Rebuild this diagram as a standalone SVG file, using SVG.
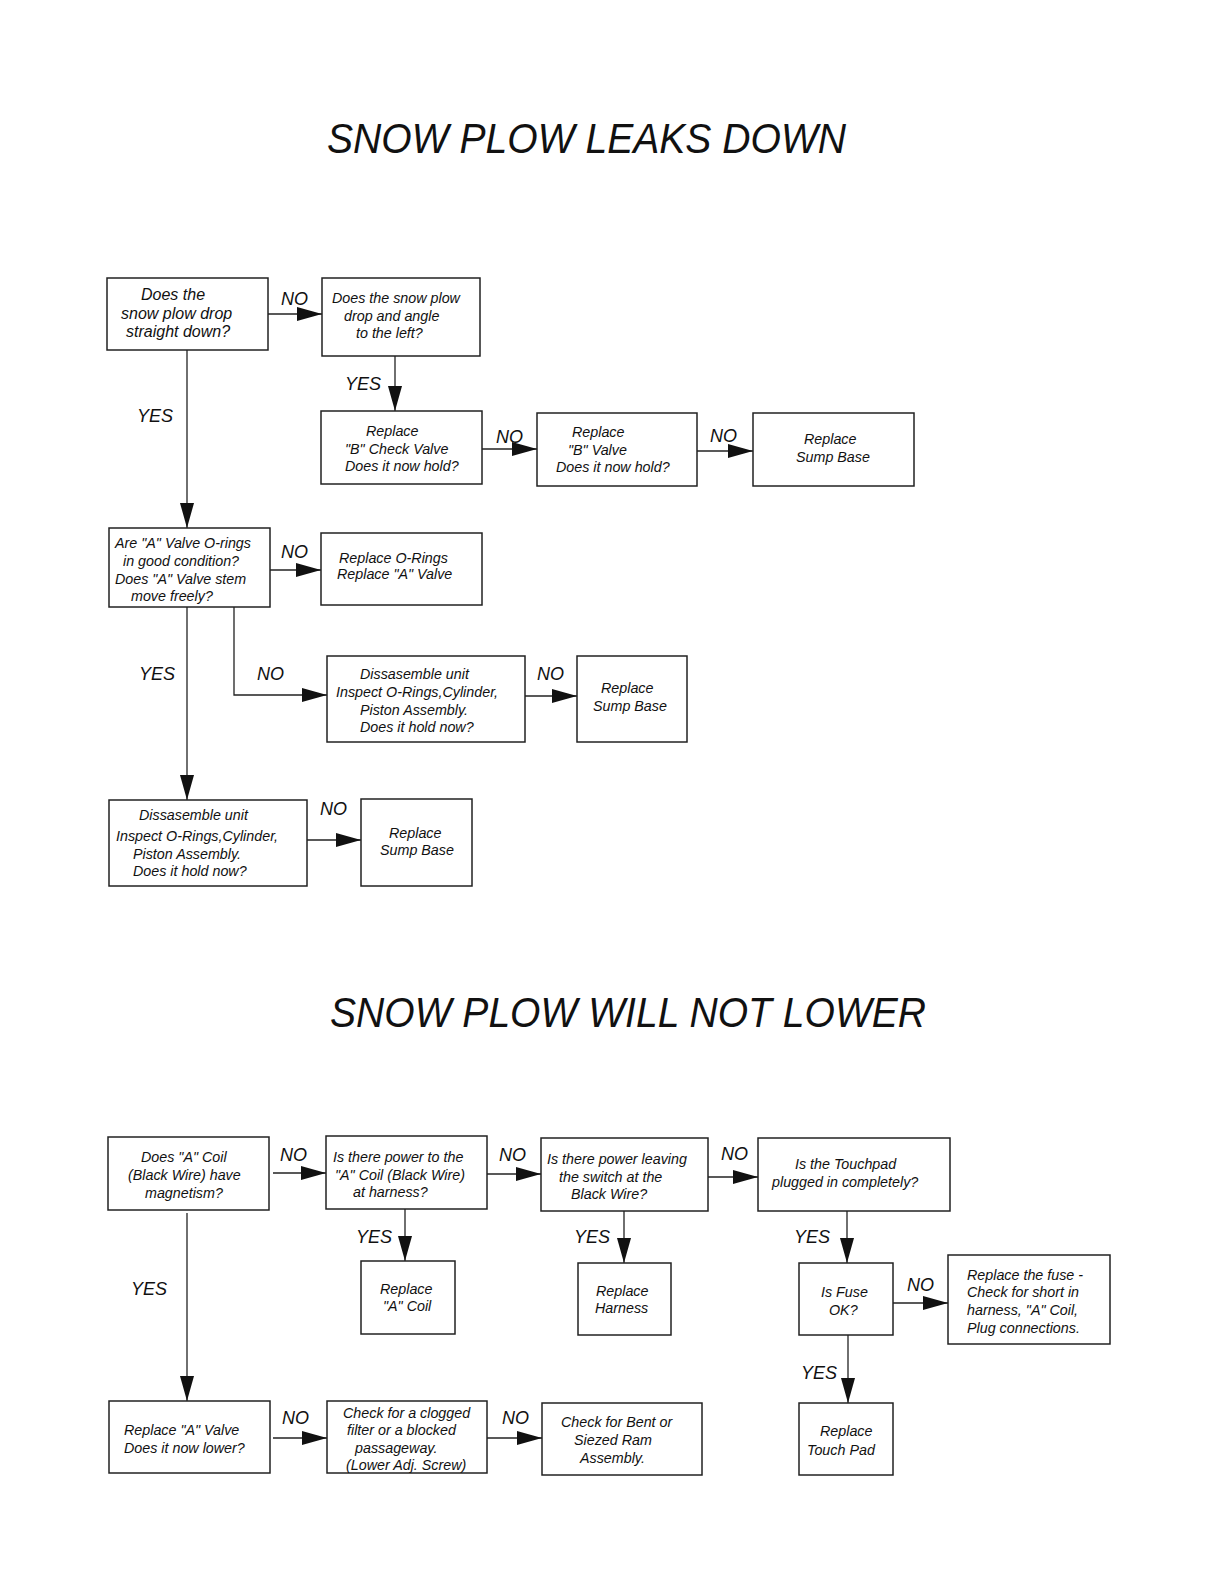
<svg xmlns="http://www.w3.org/2000/svg" width="1224" height="1584" viewBox="0 0 1224 1584">
<style>
text{font-family:"Liberation Sans",Arial,sans-serif;font-style:italic;fill:#111}
.t{font-size:14.3px}
.b{font-size:16px}
.l{font-size:18px}
.h{font-size:42px}
rect{fill:#fff;stroke:#222;stroke-width:1.5}
.c path,.c line{fill:none;stroke:#222;stroke-width:1.3}
</style>
<defs>
<marker id="ah" markerUnits="userSpaceOnUse" markerWidth="26" markerHeight="15" refX="25" refY="7" orient="auto">
<path d="M0,0 L25,7 L0,14 z" fill="#111"/>
</marker>
</defs>
<rect x="0" y="0" width="1224" height="1584" style="fill:#fff;stroke:none"/>
<text class="h" x="327" y="153" textLength="519" lengthAdjust="spacingAndGlyphs">SNOW PLOW LEAKS DOWN</text>
<text class="h" x="330" y="1027" textLength="596" lengthAdjust="spacingAndGlyphs">SNOW PLOW WILL NOT LOWER</text>

<g class="c" id="connectors">
<line x1="268" y1="314" x2="322" y2="314" marker-end="url(#ah)"/>
<line x1="395" y1="356" x2="395" y2="411" marker-end="url(#ah)"/>
<line x1="482" y1="449" x2="537" y2="449" marker-end="url(#ah)"/>
<line x1="697" y1="451" x2="753" y2="451" marker-end="url(#ah)"/>
<line x1="187" y1="350" x2="187" y2="528" marker-end="url(#ah)"/>
<line x1="270" y1="570" x2="321" y2="570" marker-end="url(#ah)"/>
<path d="M234,607 L234,695 L327,695" marker-end="url(#ah)"/>
<line x1="525" y1="696" x2="577" y2="696" marker-end="url(#ah)"/>
<line x1="187" y1="607" x2="187" y2="800" marker-end="url(#ah)"/>
<line x1="307" y1="840" x2="361" y2="840" marker-end="url(#ah)"/>
<line x1="273" y1="1173" x2="326" y2="1173" marker-end="url(#ah)"/>
<line x1="405" y1="1209" x2="405" y2="1261" marker-end="url(#ah)"/>
<line x1="487" y1="1174" x2="541" y2="1174" marker-end="url(#ah)"/>
<line x1="624" y1="1211" x2="624" y2="1263" marker-end="url(#ah)"/>
<line x1="708" y1="1177" x2="758" y2="1177" marker-end="url(#ah)"/>
<line x1="847" y1="1211" x2="847" y2="1263" marker-end="url(#ah)"/>
<line x1="893" y1="1303" x2="948" y2="1303" marker-end="url(#ah)"/>
<line x1="848" y1="1335" x2="848" y2="1403" marker-end="url(#ah)"/>
<line x1="187" y1="1213" x2="187" y2="1401" marker-end="url(#ah)"/>
<line x1="273" y1="1438" x2="327" y2="1438" marker-end="url(#ah)"/>
<line x1="487" y1="1438" x2="542" y2="1438" marker-end="url(#ah)"/>
</g>

<g id="labels">
<text class="l" x="281" y="305">NO</text>
<text class="l" x="345" y="390">YES</text>
<text class="l" x="496" y="443">NO</text>
<text class="l" x="710" y="442">NO</text>
<text class="l" x="137" y="422">YES</text>
<text class="l" x="281" y="558">NO</text>
<text class="l" x="257" y="680">NO</text>
<text class="l" x="537" y="680">NO</text>
<text class="l" x="139" y="680">YES</text>
<text class="l" x="320" y="815">NO</text>
<text class="l" x="280" y="1161">NO</text>
<text class="l" x="356" y="1243">YES</text>
<text class="l" x="499" y="1161">NO</text>
<text class="l" x="574" y="1243">YES</text>
<text class="l" x="721" y="1160">NO</text>
<text class="l" x="794" y="1243">YES</text>
<text class="l" x="907" y="1291">NO</text>
<text class="l" x="801" y="1379">YES</text>
<text class="l" x="131" y="1295">YES</text>
<text class="l" x="282" y="1424">NO</text>
<text class="l" x="502" y="1424">NO</text>
</g>

<g id="b1"><rect x="107" y="278" width="161" height="72"/>
<text class="b" x="141" y="300">Does the</text><text class="b" x="121" y="319">snow plow drop</text><text class="b" x="126" y="337">straight down?</text></g>
<g id="b2"><rect x="322" y="278" width="158" height="78"/>
<text class="t" x="332" y="303">Does the snow plow</text><text class="t" x="344" y="321">drop and angle</text><text class="t" x="356" y="338">to the left?</text></g>
<g id="b3"><rect x="321" y="411" width="161" height="73"/>
<text class="t" x="366" y="436">Replace</text><text class="t" x="345" y="454">"B" Check Valve</text><text class="t" x="345" y="471">Does it now hold?</text></g>
<g id="b4"><rect x="537" y="413" width="160" height="73"/>
<text class="t" x="572" y="437">Replace</text><text class="t" x="568" y="455">"B" Valve</text><text class="t" x="556" y="472">Does it now hold?</text></g>
<g id="b5"><rect x="753" y="413" width="161" height="73"/>
<text class="t" x="804" y="444">Replace</text><text class="t" x="796" y="462">Sump Base</text></g>
<g id="b6"><rect x="109" y="528" width="161" height="79"/>
<text class="t" x="115" y="548">Are "A" Valve O-rings</text><text class="t" x="123" y="566">in good condition?</text><text class="t" x="115" y="584">Does "A" Valve stem</text><text class="t" x="131" y="601">move freely?</text></g>
<g id="b7"><rect x="321" y="533" width="161" height="72"/>
<text class="t" x="339" y="563">Replace O-Rings</text><text class="t" x="337" y="579">Replace "A" Valve</text></g>
<g id="b8"><rect x="327" y="656" width="198" height="86"/>
<text class="t" x="360" y="679">Dissasemble unit</text><text class="t" x="336" y="697">Inspect O-Rings,Cylinder,</text><text class="t" x="360" y="715">Piston Assembly.</text><text class="t" x="360" y="732">Does it hold now?</text></g>
<g id="b9"><rect x="577" y="656" width="110" height="86"/>
<text class="t" x="601" y="693">Replace</text><text class="t" x="593" y="711">Sump Base</text></g>
<g id="b10"><rect x="109" y="800" width="198" height="86"/>
<text class="t" x="139" y="820">Dissasemble unit</text><text class="t" x="116" y="841">Inspect O-Rings,Cylinder,</text><text class="t" x="133" y="859">Piston Assembly.</text><text class="t" x="133" y="876">Does it hold now?</text></g>
<g id="b11"><rect x="361" y="799" width="111" height="87"/>
<text class="t" x="389" y="838">Replace</text><text class="t" x="380" y="855">Sump Base</text></g>

<g id="c1"><rect x="108" y="1137" width="161" height="73"/>
<text class="t" x="141" y="1162">Does "A" Coil</text><text class="t" x="128" y="1180">(Black Wire) have</text><text class="t" x="145" y="1198">magnetism?</text></g>
<g id="c2"><rect x="326" y="1136" width="161" height="73"/>
<text class="t" x="333" y="1162">Is there power to the</text><text class="t" x="335" y="1180">"A" Coil (Black Wire)</text><text class="t" x="353" y="1197">at harness?</text></g>
<g id="c3"><rect x="361" y="1261" width="94" height="73"/>
<text class="t" x="380" y="1294">Replace</text><text class="t" x="383" y="1311">"A" Coil</text></g>
<g id="c4"><rect x="541" y="1138" width="167" height="73"/>
<text class="t" x="547" y="1164">Is there power leaving</text><text class="t" x="559" y="1182">the switch at the</text><text class="t" x="571" y="1199">Black Wire?</text></g>
<g id="c5"><rect x="578" y="1263" width="93" height="72"/>
<text class="t" x="596" y="1296">Replace</text><text class="t" x="595" y="1313">Harness</text></g>
<g id="c6"><rect x="758" y="1138" width="192" height="73"/>
<text class="t" x="795" y="1169">Is the Touchpad</text><text class="t" x="772" y="1187">plugged in completely?</text></g>
<g id="c7"><rect x="799" y="1263" width="94" height="72"/>
<text class="t" x="821" y="1297">Is Fuse</text><text class="t" x="829" y="1315">OK?</text></g>
<g id="c8"><rect x="948" y="1255" width="162" height="89"/>
<text class="t" x="967" y="1280">Replace the fuse -</text><text class="t" x="967" y="1297">Check for short in</text><text class="t" x="967" y="1315">harness, "A" Coil,</text><text class="t" x="967" y="1333">Plug connections.</text></g>
<g id="c9"><rect x="799" y="1403" width="94" height="72"/>
<text class="t" x="820" y="1436">Replace</text><text class="t" x="807" y="1455">Touch Pad</text></g>
<g id="c10"><rect x="109" y="1401" width="161" height="72"/>
<text class="t" x="124" y="1435">Replace "A" Valve</text><text class="t" x="124" y="1453">Does it now lower?</text></g>
<g id="c11"><rect x="327" y="1401" width="160" height="72"/>
<text class="t" x="343" y="1418">Check for a clogged</text><text class="t" x="347" y="1435">filter or a blocked</text><text class="t" x="355" y="1453">passageway.</text><text class="t" x="346" y="1470">(Lower Adj. Screw)</text></g>
<g id="c12"><rect x="542" y="1403" width="160" height="72"/>
<text class="t" x="561" y="1427">Check for Bent or</text><text class="t" x="574" y="1445">Siezed  Ram</text><text class="t" x="580" y="1463">Assembly.</text></g>
</svg>
